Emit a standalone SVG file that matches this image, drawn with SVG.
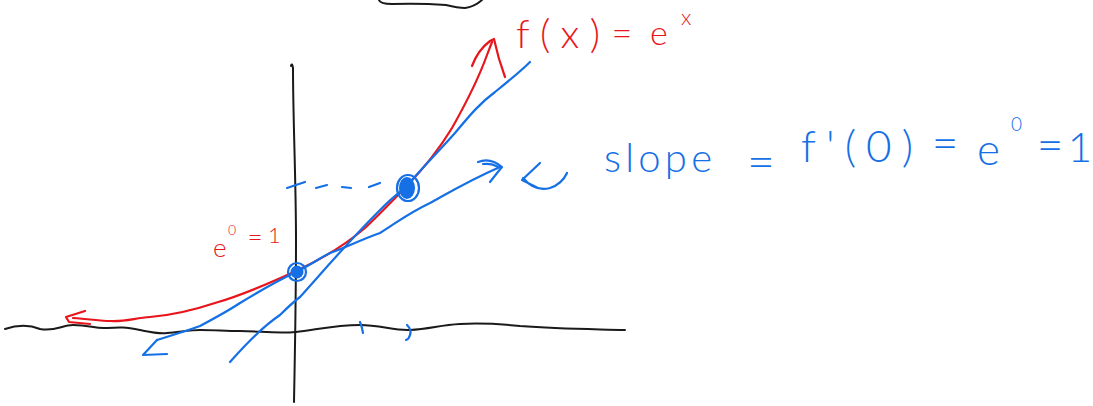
<svg xmlns="http://www.w3.org/2000/svg" width="1093" height="406" viewBox="0 0 1093 406">
<style>
.k{fill:none;stroke:#1a1a1a;stroke-width:2;stroke-linecap:round;stroke-linejoin:round}
.r{fill:none;stroke:#e8161c;stroke-width:2.2;stroke-linecap:round;stroke-linejoin:round}
.b{fill:none;stroke:#1570e6;stroke-width:2.2;stroke-linecap:round;stroke-linejoin:round}
.tr{fill:#e8161c;font-family:Lato,"Liberation Sans",Arial,sans-serif;font-weight:300}
.tb{fill:#1570e6;font-family:Lato,"Liberation Sans",Arial,sans-serif;font-weight:300}
</style>
<rect width="1093" height="406" fill="#ffffff"/>
<g id="top-shape">
<path class="k" d="M379,0 Q380,4 392,4 Q420,3 446,5 Q458,8 465,8 Q474,7 482,0"/>
</g>
<g id="axes">
<path class="k" d="M5,329 C20,324 30,325 40,329 C55,332 62,325 73,325 C90,325 95,329 107,328 C120,327 125,327 140,330 C150,332 158,334 167,333 C180,332 190,330 200,330 C215,330 225,331 240,331 C260,331 275,334 296,332 C315,330 335,325 360,325 C380,325 395,331 410,330 C430,329 440,325 460,324 C480,323 500,324 520,326 C560,329 590,329 625,330"/>
<path class="k" d="M291,66 Q292,62 293,68 C293,120 296,180 296,240 C296,300 295,350 294,402"/>
<path class="b" d="M360,322 Q362,327 363,333"/>
<path class="b" d="M407,325 Q412,330 410,335 Q409,339 406,340"/>
</g>
<g id="curve-exp">
<path class="r" d="M73,318 C90,319 100,321 110,321 C125,322 135,318 150,317 C175,315 200,308 215,303 C240,296 270,283 296,271 C320,260 345,245 365,228 C380,214 395,198 405,188 C425,167 440,148 452,128 C465,105 478,80 487,55 L492,42"/>
<path class="r" d="M472,66 Q478,50 490,41 L494,39 Q498,58 505,77"/>
<path class="r" d="M85,311 L66,317 L69,322 L90,324"/>
</g>
<g id="tangent-0">
<path class="b" d="M157,340 C175,334 190,330 200,326 C215,318 228,311 240,303 C258,292 275,282 296,272 C310,265 320,258 330,253 C345,248 360,240 380,233 C395,224 405,215 430,203 C450,192 470,180 500,167"/>
<path class="b" d="M157,340 L143,355 L167,354"/>
<path class="b" d="M478,162 Q490,157 502,167 Q497,173 490,182 M483,164 Q492,163 498,167"/>
<circle cx="297" cy="272" r="6.5" fill="#1570e6"/>
<circle class="b" cx="297" cy="272" r="9"/>
</g>
<g id="tangent-1">
<path class="b" d="M230,362 C245,345 265,325 280,315 C290,305 296,300 300,297 C320,275 345,245 380,210 C395,195 400,192 405,188 C420,170 440,150 455,133 C470,115 480,103 495,92 C510,80 520,72 530,62"/>
<ellipse cx="407" cy="188" rx="8" ry="11" fill="#1570e6"/>
<ellipse class="b" cx="408" cy="188" rx="11" ry="13"/>
<path class="b" d="M287,188 L305,182 M316,188 L327,185 M342,187 L351,188 M369,187 L380,183"/>
</g>
<g id="pointer">
<path class="b" d="M540,163 L522,180 L538,188 M523,178 Q535,192 550,188 Q562,184 567,173"/>
</g>
<g id="label-fx">
<text class="tr" x="516" y="48" font-size="40" textLength="84" lengthAdjust="spacing">f(x)</text>
<text class="tr" x="622" y="46" font-size="36" text-anchor="middle">=</text>
<text class="tr" x="650" y="45" font-size="34">e</text>
<text class="tr" x="681" y="25" font-size="22">x</text>
</g>
<g id="label-e0">
<text class="tr" x="213" y="257" font-size="26">e</text>
<text class="tr" x="228" y="235" font-size="14">0</text>
<text class="tr" x="255" y="246" font-size="26" text-anchor="middle">=</text>
<text class="tr" x="268" y="243" font-size="22">1</text>
</g>
<g id="label-slope">
<text class="tb" x="604" y="172" font-size="40" textLength="108" lengthAdjust="spacing">slope</text>
<text class="tb" x="761" y="178" font-size="48" text-anchor="middle">=</text>
<text class="tb" x="801" y="162" font-size="44" textLength="112" lengthAdjust="spacing">f'(0)</text>
<text class="tb" x="945" y="159" font-size="46" text-anchor="middle">=</text>
<text class="tb" x="977" y="165" font-size="44">e</text>
<text class="tb" x="1011" y="131" font-size="19">0</text>
<text class="tb" x="1050" y="161" font-size="46" text-anchor="middle">=</text>
<text class="tb" x="1092" y="162" font-size="42" text-anchor="end">1</text>
</g>
</svg>
